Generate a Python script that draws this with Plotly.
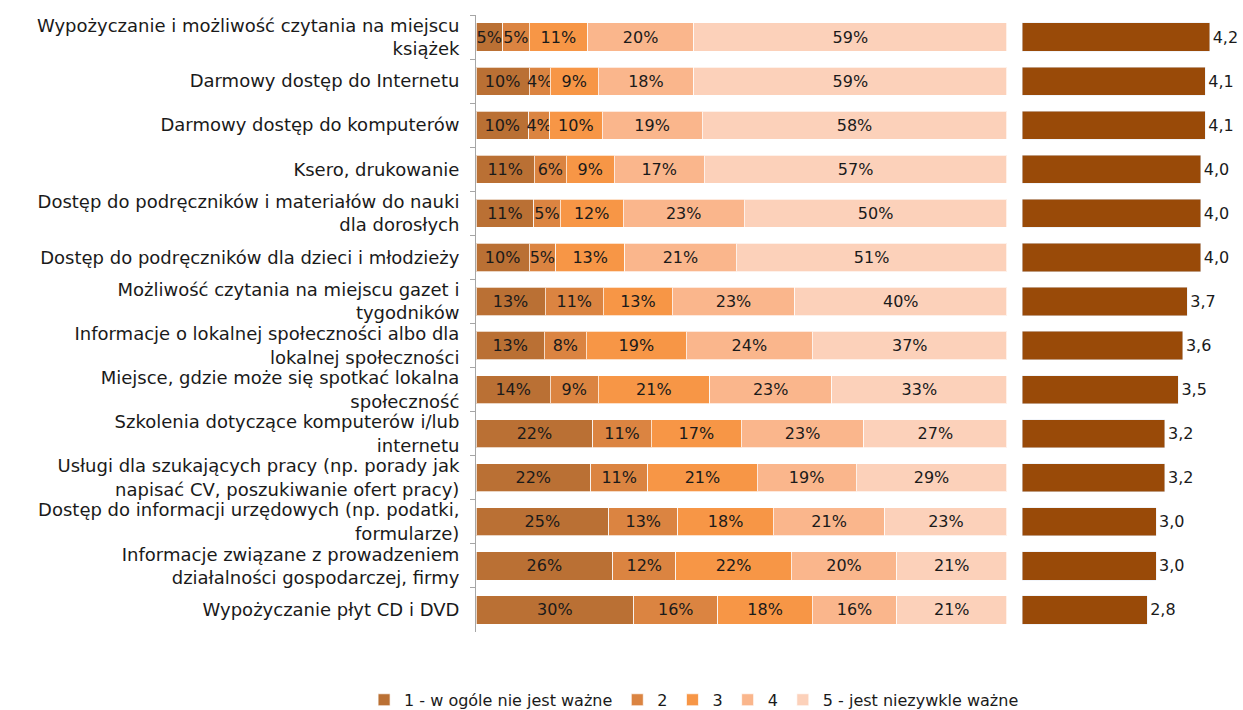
import plotly.graph_objects as go

categories = [
    "Wypożyczanie i możliwość czytania na miejscu<br>książek",
    "Darmowy dostęp do Internetu",
    "Darmowy dostęp do komputerów",
    "Ksero, drukowanie",
    "Dostęp do podręczników i materiałów do nauki<br>dla dorosłych",
    "Dostęp do podręczników dla dzieci i młodzieży",
    "Możliwość czytania na miejscu gazet i<br>tygodników",
    "Informacje o lokalnej społeczności albo dla<br>lokalnej społeczności",
    "Miejsce, gdzie może się spotkać lokalna<br>społeczność",
    "Szkolenia dotyczące komputerów i/lub<br>internetu",
    "Usługi dla szukających pracy (np. porady jak<br>napisać CV, poszukiwanie ofert pracy)",
    "Dostęp do informacji urzędowych (np. podatki,<br>formularze)",
    "Informacje związane z prowadzeniem<br>działalności gospodarczej, firmy",
    "Wypożyczanie płyt CD i DVD",
]

series_names = ["1 - w ogóle nie jest ważne", "2", "3", "4", "5 - jest niezywkle ważne"]
s1 = [5, 10, 10, 11, 11, 10, 13, 13, 14, 22, 22, 25, 26, 30]
s2 = [5, 4, 4, 6, 5, 5, 11, 8, 9, 11, 11, 13, 12, 16]
s3 = [11, 9, 10, 9, 12, 13, 13, 19, 21, 17, 21, 18, 22, 18]
s4 = [20, 18, 19, 17, 23, 21, 23, 24, 23, 23, 19, 21, 20, 16]
s5 = [59, 59, 58, 57, 50, 51, 40, 37, 33, 27, 29, 23, 21, 21]
averages = [4.2, 4.1, 4.1, 4.0, 4.0, 4.0, 3.7, 3.6, 3.5, 3.2, 3.2, 3.0, 3.0, 2.8]

colors = ["#BA7034", "#DB8441", "#F79646", "#FAB68C", "#FCD1BA"]
avg_color = "#994A08"

FONT = "DejaVu Sans"

all_series = [s1, s2, s3, s4, s5]
row_sums = [sum(vals) for vals in zip(*all_series)]

fig = go.Figure()
for name, vals, col in zip(series_names, all_series, colors):
    shares = [v / t * 100 for v, t in zip(vals, row_sums)]
    fig.add_trace(go.Bar(
        y=categories, x=shares, name=name, orientation="h",
        marker=dict(color=col, line=dict(color="rgba(255,255,255,0.7)", width=1)),
        text=[f"{v}%" for v in vals], textposition="inside", textangle=0,
        insidetextanchor="middle", textfont=dict(color="#1a1a1a", size=16, family=FONT),
        xaxis="x", yaxis="y", hoverinfo="x+y",
    ))

fig.add_trace(go.Bar(
    y=categories, x=averages, orientation="h", showlegend=False,
    marker=dict(color=avg_color),
    text=[f"{v:.1f}".replace(".", ",") for v in averages], textposition="outside",
    textfont=dict(color="#1a1a1a", size=16, family=FONT), cliponaxis=False,
    xaxis="x2", yaxis="y2",
))

fig.update_layout(
    width=1243, height=710,
    barmode="stack", bargap=0.36,
    plot_bgcolor="white", paper_bgcolor="white",
    margin=dict(l=476, r=15, t=15, b=78, autoexpand=False),
    font=dict(family=FONT, size=17, color="#1a1a1a"),
    uniformtext=dict(minsize=16, mode="show"),
    xaxis=dict(domain=[0, 0.7061], range=[0, 100], visible=False),
    xaxis2=dict(domain=[0.7261, 1], range=[0, 4.61], visible=False),
    yaxis=dict(categoryorder="array", categoryarray=categories, autorange="reversed",
               automargin=False,
               showline=True, linecolor="#A6A6A6", linewidth=1, ticks="outside",
               tickson="boundaries", ticklen=5, tickcolor="#A6A6A6",
               ticklabelstandoff=12,
               tickfont=dict(size=18, family=FONT, color="#1a1a1a")),
    yaxis2=dict(anchor="x2", matches="y", showticklabels=False, showline=False, ticks=""),
    legend=dict(orientation="h", x=0.29, xanchor="center", y=-0.110, yanchor="middle",
                font=dict(size=16, family=FONT), traceorder="normal", itemwidth=30),
)

fig.write_html("out.html", post_script="document.body.style.margin='0';",
               config={"displayModeBar": False})
